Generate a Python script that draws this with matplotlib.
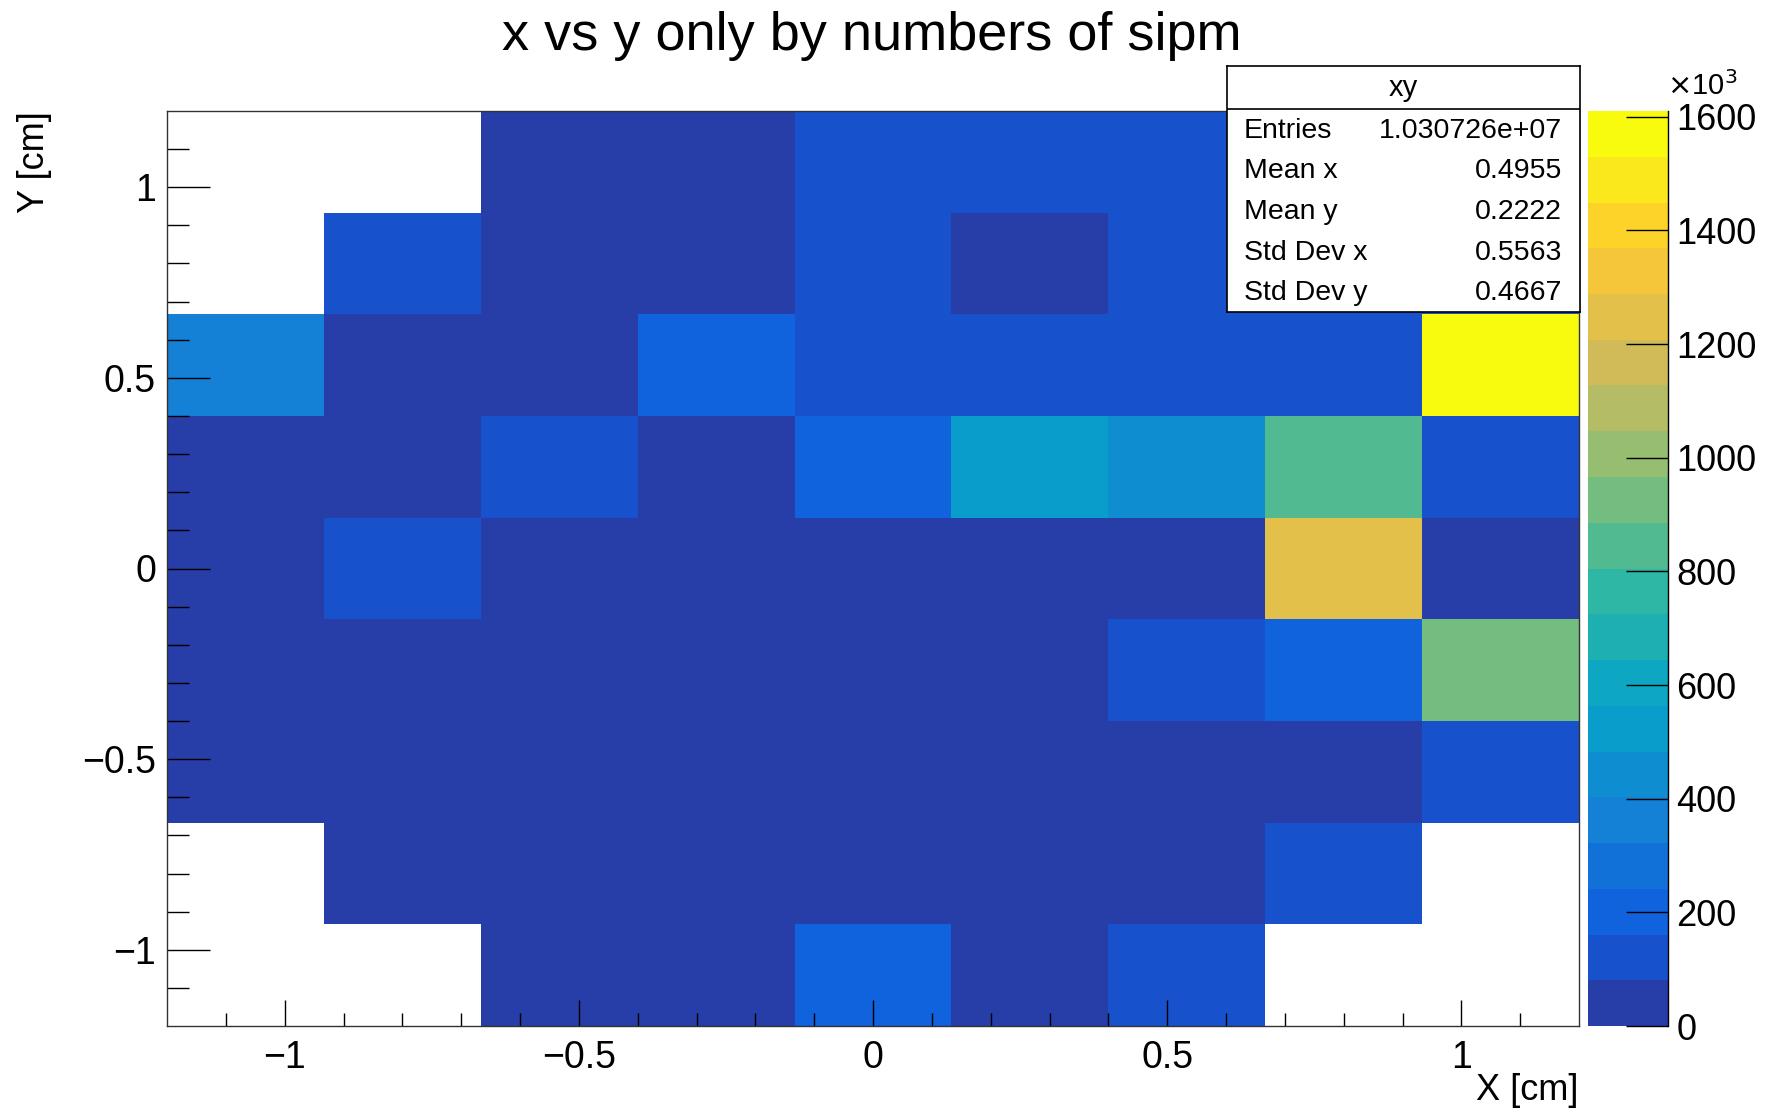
import numpy as np
import matplotlib
matplotlib.use("Agg")
import matplotlib.pyplot as plt
from matplotlib.colors import ListedColormap, BoundaryNorm

plt.rcParams['font.family'] = ['Liberation Sans', 'DejaVu Sans']

# bin edges (9 x 9 bins, -1.2 .. 1.2 cm)
x_edges = np.linspace(-1.2, 1.2, 10)
y_edges = np.linspace(-1.2, 1.2, 10)

# counts in thousands, rows from bottom (y=-1.2) to top (y=1.2)
row0 = [0, 0, 30, 35, 200, 40, 115, 0, 0]
row1 = [0, 30, 35, 40, 45, 40, 40, 110, 0]
row2 = [35, 40, 45, 50, 50, 45, 40, 50, 125]
row3 = [40, 45, 50, 55, 55, 50, 120, 205, 925]
row4 = [45, 110, 50, 50, 50, 45, 55, 1245, 60]
row5 = [35, 45, 125, 55, 210, 525, 445, 845, 135]
row6 = [365, 40, 45, 195, 130, 125, 120, 130, 1610]
row7 = [0, 105, 35, 40, 100, 45, 95, 90, 95]
row8 = [0, 0, 30, 35, 90, 90, 95, 85, 85]
counts = np.array([row0, row1, row2, row3, row4, row5, row6, row7, row8], dtype=float)

stats_labels = ['Entries', 'Mean x', 'Mean y', 'Std Dev x', 'Std Dev y']
stats_values = ['1.030726e+07', '0.4955', '0.2222', '0.5563', '0.4667']

zmax = 1610.0
n_levels = 20

# ROOT kBird palette
stops = [0.0, 0.125, 0.25, 0.375, 0.5, 0.625, 0.75, 0.875, 1.0]
red = [0.2082, 0.0592, 0.0780, 0.0232, 0.1802, 0.5301, 0.8186, 0.9956, 0.9764]
green = [0.1664, 0.3599, 0.5041, 0.6419, 0.7178, 0.7492, 0.7328, 0.7862, 0.9832]
blue = [0.5293, 0.8684, 0.8385, 0.7914, 0.6425, 0.4662, 0.3499, 0.1968, 0.0539]


def bird(f):
    return (np.interp(f, stops, red), np.interp(f, stops, green), np.interp(f, stops, blue))


colors = []
for i in range(n_levels):
    idx = int((i + 0.99) * 255 / n_levels)
    colors.append(bird(min(idx, 254) / 254.0))
cmap = ListedColormap(colors)
cmap.set_bad('white')
levels = np.linspace(0, zmax, n_levels + 1)
norm = BoundaryNorm(levels, n_levels)

W, H = 1781, 1111
fig = plt.figure(figsize=(W / 100, H / 100), dpi=100)


def fx(px):
    return px / W


def fy(py):
    return 1 - py / H


ax = fig.add_axes([fx(167), fy(1026), fx(1579) - fx(167), fy(111) - fy(1026)])
data = np.ma.masked_where(counts <= 0, counts)
ax.pcolormesh(x_edges, y_edges, data, cmap=cmap, norm=norm)
ax.set_xlim(-1.2, 1.2)
ax.set_ylim(-1.2, 1.2)

ax.set_xticks([-1, -0.5, 0, 0.5, 1])
ax.set_yticks([-1, -0.5, 0, 0.5, 1])
ax.set_xticks(np.arange(-1.1, 1.15, 0.1), minor=True)
ax.set_yticks(np.arange(-1.1, 1.15, 0.1), minor=True)
ax.set_xticklabels(['\u22121', '\u22120.5', '0', '0.5', '1'])
ax.set_yticklabels(['\u22121', '\u22120.5', '0', '0.5', '1'])
ax.tick_params(axis='x', which='major', direction='in', length=19, width=1.0, labelsize=27, pad=10)
ax.tick_params(axis='x', which='minor', direction='in', length=9.5, width=1.0)
ax.tick_params(axis='y', which='major', direction='in', length=31, width=1.0, labelsize=27, pad=8)
ax.tick_params(axis='y', which='minor', direction='in', length=16, width=1.0)
for s in ax.spines.values():
    s.set_linewidth(1.0)
    s.set_color('#333333')

fig.text(fx(1579), fy(1090), 'X [cm]', ha='right', va='center', fontsize=26)
fig.text(fx(34), fy(111), 'Y [cm]', ha='center', va='top', rotation=90, fontsize=26)
fig.text(fx(872), fy(36), 'x vs y only by numbers of sipm', ha='center', va='center', fontsize=39)

# colour scale
cax = fig.add_axes([fx(1588), fy(1026), fx(1668) - fx(1588), fy(111) - fy(1026)])
cb = fig.colorbar(plt.cm.ScalarMappable(norm=norm, cmap=cmap), cax=cax, ticks=np.arange(0, 1601, 200))
cb.outline.set_visible(False)
cax.minorticks_off()
cax.tick_params(axis='y', direction='in', length=30, width=1.0, labelsize=26, pad=6, right=True, left=False)
cax.set_yticklabels([str(v) for v in range(0, 1601, 200)])
cax.axvline(1, color='black', lw=1.0, clip_on=False)
fig.text(fx(1667), fy(86), r'$\times$10$^{3}$', ha='left', va='center', fontsize=21)

# stats box
sax = fig.add_axes([fx(1227), fy(312), fx(1580) - fx(1227), fy(66) - fy(312)])
sax.set_xlim(0, 1)
sax.set_ylim(0, 1)
sax.set_xticks([])
sax.set_yticks([])
sax.set_facecolor('white')
for s in sax.spines.values():
    s.set_linewidth(1.2)
    s.set_color('black')
sep = 1 - (109 - 66) / (312 - 66)
sax.axhline(sep, color='black', lw=1.2)
sax.text(0.5, (1 + sep) / 2, 'xy', ha='center', va='center', fontsize=21)
row_px = [131, 171, 212, 253, 293]
for lab, val, py in zip(stats_labels, stats_values, row_px):
    yy = 1 - (py - 66) / (312 - 66)
    sax.text((1244 - 1227) / (1580 - 1227), yy, lab, ha='left', va='center', fontsize=20.5)
    sax.text((1562 - 1227) / (1580 - 1227), yy, val, ha='right', va='center', fontsize=20.5)

fig.savefig('out.png', dpi=100)
